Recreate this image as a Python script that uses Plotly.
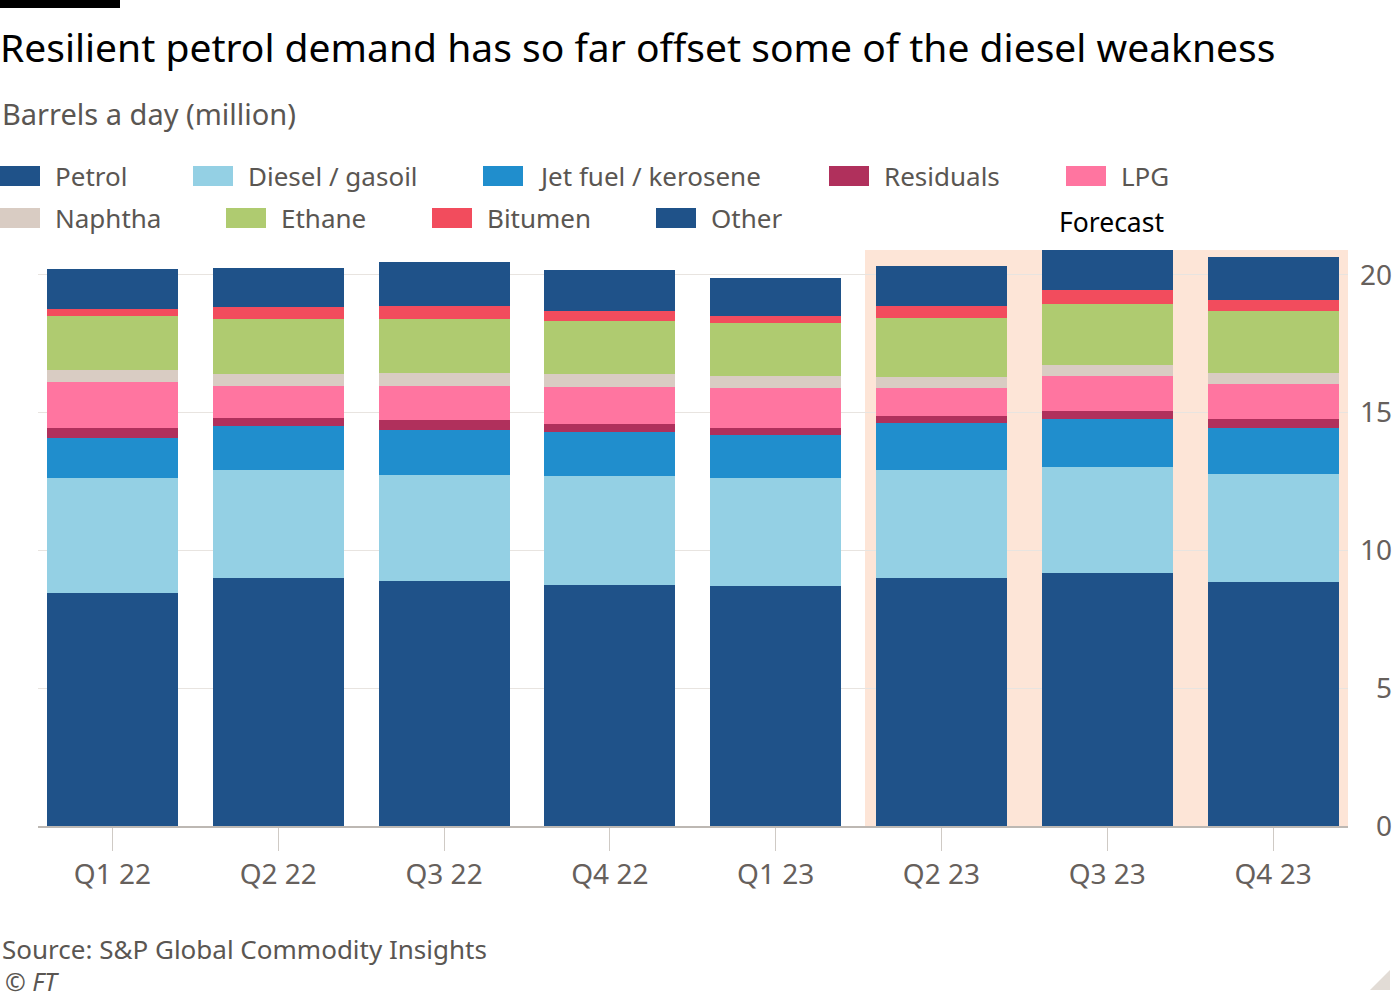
import plotly.graph_objects as go

# ---------------- data ----------------
quarters = ["Q1 22", "Q2 22", "Q3 22", "Q4 22", "Q1 23", "Q2 23", "Q3 23", "Q4 23"]
petrol = [8.47, 8.99, 8.88, 8.76, 8.70, 9.00, 9.18, 8.85]
diesel = [4.15, 3.91, 3.87, 3.94, 3.92, 3.92, 3.85, 3.93]
jet_fuel = [1.45, 1.61, 1.61, 1.59, 1.55, 1.70, 1.73, 1.66]
residuals = [0.37, 0.30, 0.38, 0.29, 0.27, 0.25, 0.31, 0.33]
lpg = [1.68, 1.16, 1.24, 1.35, 1.46, 1.04, 1.27, 1.25]
naphtha = [0.42, 0.43, 0.45, 0.48, 0.43, 0.40, 0.39, 0.41]
ethane = [1.96, 2.01, 1.96, 1.90, 1.92, 2.14, 2.21, 2.26]
bitumen = [0.27, 0.42, 0.47, 0.37, 0.24, 0.41, 0.50, 0.40]
other = [1.44, 1.42, 1.60, 1.48, 1.40, 1.47, 1.47, 1.55]

series_names = ["Petrol", "Diesel / gasoil", "Jet fuel / kerosene", "Residuals", "LPG",
                "Naphtha", "Ethane", "Bitumen", "Other"]
series_values = [petrol, diesel, jet_fuel, residuals, lpg, naphtha, ethane, bitumen, other]
series_colors = ["#1f5289", "#94d0e4", "#208ecd", "#b0305c", "#ff75a0",
                 "#d9ccc3", "#afcb70", "#f24c5d", "#1f5289"]

y_ticks = [0, 5, 10, 15, 20]
forecast_start = "Q2 23"

title_text = "Resilient petrol demand has so far offset some of the diesel weakness"
subtitle_text = "Barrels a day (million)"
source_text = "Source: S&P Global Commodity Insights"
credit_text = "© FT"

# ---------------- layout geometry (pixels) ----------------
W, H = 1400, 1000
ML, MR, MT, MB = 38, 8, 250, 174
PW, PH = W - ML - MR, H - MT - MB
PLOT_RIGHT_PX = 1348
FONT = "Noto Sans"
TEXT_GREY = "#5a5652"
TICK_GREY = "#66605c"


def px_x(px):
    return (px - ML) / PW


def px_y(py):
    return (H - MB - py) / PH


fig = go.Figure()
for name, vals, col in zip(series_names, series_values, series_colors):
    fig.add_trace(go.Bar(x=quarters, y=vals, name=name, marker=dict(color=col, line=dict(width=0)),
                         showlegend=False))

x_lo, x_hi = -0.449, 7.452
fs_idx = quarters.index(forecast_start)
shade_x0 = fs_idx - 0.461

shapes = []
# forecast shading
shapes.append(dict(type="rect", xref="x", yref="paper", x0=shade_x0, x1=x_hi, y0=0, y1=1,
                   fillcolor="#fde5d7", line=dict(width=0), layer="below"))
# top-left black bar
shapes.append(dict(type="rect", xref="paper", yref="paper", x0=px_x(0), x1=px_x(120),
                   y0=px_y(8), y1=px_y(0), fillcolor="#000000", line=dict(width=0)))
# corner triangle
shapes.append(dict(type="path", xref="paper", yref="paper",
                   path=f"M {px_x(1370)} {px_y(990)} L {px_x(1390)} {px_y(990)} L {px_x(1390)} {px_y(970)} Z",
                   fillcolor="#e2dcd6", line=dict(width=0)))

annotations = []
annotations.append(dict(text=subtitle_text, xref="paper", yref="paper", x=px_x(0), y=px_y(114),
                        xanchor="left", yanchor="middle", showarrow=False,
                        font=dict(family=FONT, size=29, color=TEXT_GREY)))

# manual legend
legend_rows = [[0, 193, 483, 829, 1066], [0, 226, 432, 656]]
legend_row_y = [176, 218]
k = 0
for row, yc in zip(legend_rows, legend_row_y):
    for xs in row:
        shapes.append(dict(type="rect", xref="paper", yref="paper", x0=px_x(xs), x1=px_x(xs + 40),
                           y0=px_y(yc + 10), y1=px_y(yc - 10), fillcolor=series_colors[k],
                           line=dict(width=0)))
        annotations.append(dict(text=series_names[k], xref="paper", yref="paper", x=px_x(xs + 53),
                                y=px_y(yc), xanchor="left", yanchor="middle", showarrow=False,
                                font=dict(family=FONT, size=26, color=TEXT_GREY)))
        k += 1

annotations.append(dict(text="Forecast", xref="x", yref="paper", x=(shade_x0 + x_hi) / 2 + 0.03,
                        y=px_y(222), xanchor="center", yanchor="middle", showarrow=False,
                        font=dict(family=FONT, size=26.5, color="#000000")))
annotations.append(dict(text=source_text, xref="paper", yref="paper", x=px_x(0), y=px_y(949),
                        xanchor="left", yanchor="middle", showarrow=False,
                        font=dict(family=FONT, size=26, color=TEXT_GREY)))
annotations.append(dict(text="<i>" + credit_text + "</i>", xref="paper", yref="paper", x=px_x(3),
                        y=px_y(981), xanchor="left", yanchor="middle", showarrow=False,
                        font=dict(family=FONT, size=25, color=TEXT_GREY)))

fig.update_layout(
    width=W, height=H,
    margin=dict(l=ML, r=MR, t=MT, b=MB, pad=0),
    paper_bgcolor="#ffffff", plot_bgcolor="rgba(0,0,0,0)",
    barmode="stack", bargap=0.21,
    title=dict(text=title_text, x=0, xref="container", xanchor="left", y=1 - 48 / H,
               yref="container", yanchor="middle", pad=dict(l=0, t=0, b=0, r=0),
               font=dict(family=FONT, size=39, color="#000000")),
    xaxis=dict(domain=[0, px_x(PLOT_RIGHT_PX)], range=[x_lo, x_hi], type="category",
               showline=True, linecolor="#bdb8b3", linewidth=1.5,
               ticks="outside", ticklen=23, tickcolor="#cfcac5", tickwidth=1,
               showgrid=False, tickfont=dict(family=FONT, size=28, color=TICK_GREY)),
    yaxis=dict(range=[0, 20.9], side="left", anchor="free", position=1.0,
               tickvals=y_ticks, ticktext=[str(v) for v in y_ticks], ticks="",
               showgrid=True, gridcolor="#e8e4e0", gridwidth=1, zeroline=False, showline=False,
               tickfont=dict(family=FONT, size=28, color=TICK_GREY)),
    shapes=shapes, annotations=annotations,
    font=dict(family=FONT),
)

fig.write_html("out.html", config={"displayModeBar": False},
               post_script="document.body.style.margin='0';document.body.style.overflow='hidden';")
